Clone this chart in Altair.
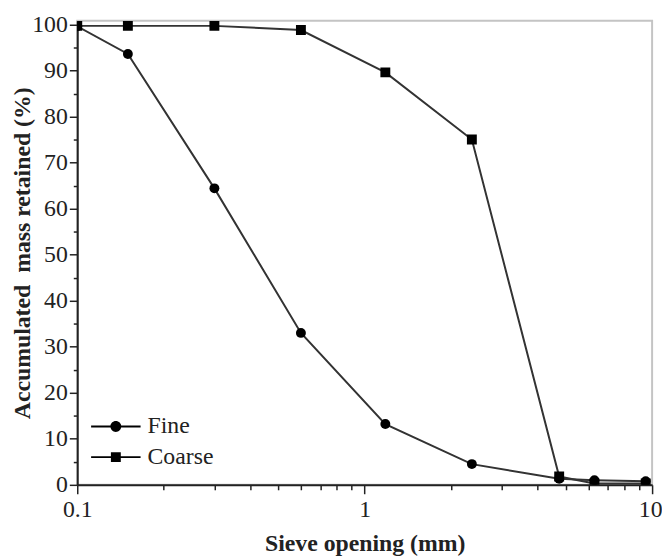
import altair as alt
import pandas as pd

# ---- data ----
sieve_mm = [0.1, 0.15, 0.3, 0.6, 1.18, 2.36, 4.75, 6.3, 9.5]
fine = [99.6, 93.6, 64.4, 33.0, 13.2, 4.5, 1.3, 1.0, 0.8]
coarse = [99.7, 99.7, 99.7, 98.8, 89.6, 75.0, 1.8, 0.3, 0.3]
series_names = ["Fine", "Coarse"]
x_tick_values = [0.1, 0.2, 0.3, 0.4, 0.5, 0.6, 0.7, 0.8, 0.9,
                 1, 2, 3, 4, 5, 6, 7, 8, 9, 10]
y_tick_values = list(range(0, 101, 5))

rows = []
for i, s in enumerate(sieve_mm):
    rows.append({"sieve": s, "value": fine[i], "series": "Fine", "order": i})
    rows.append({"sieve": s, "value": coarse[i], "series": "Coarse", "order": i})
df = pd.DataFrame(rows)

FONT = "Liberation Serif"
INK = "#222222"

major_x = "abs(log(datum.value)/LN10 - round(log(datum.value)/LN10)) < 0.001"
last_x = "datum.value >= 9.99"
major_y = "datum.value % 10 == 0"

x_enc = alt.X(
    "sieve:Q",
    scale=alt.Scale(type="log", domain=[0.1, 10], nice=False),
    axis=alt.Axis(
        title="Sieve opening (mm)",
        values=x_tick_values,
        format="~g",
        labelExpr=f"{major_x} ? datum.label : ''",
        tickSize={"condition": {"test": major_x, "value": 9}, "value": 5},
        labelAlign={"condition": {"test": last_x, "value": "right"}, "value": "center"},
        labelOffset={"condition": {"test": last_x, "value": 10}, "value": 0},
        labelFlush=False,
        labelOverlap=False,
        labelPadding=4,
        titlePadding=10,
    ),
)
y_enc = alt.Y(
    "value:Q",
    scale=alt.Scale(domain=[0, 100.8], nice=False),
    axis=alt.Axis(
        title="Accumulated\u00a0 mass retained (%)",
        values=y_tick_values,
        labelExpr=f"{major_y} ? datum.label : ''",
        tickSize={"condition": {"test": major_y, "value": 8}, "value": 4},
        labelPadding=2,
        titlePadding=-3,
        labelOverlap=False,
    ),
)

base = alt.Chart(df)

lines = base.mark_line(color="#333333", strokeWidth=2, clip=True).encode(
    x=x_enc, y=y_enc, detail="series:N", order="order:Q"
)

points = base.mark_point(filled=True, color="black", size=100, opacity=1, clip=True).encode(
    x=x_enc,
    y=y_enc,
    shape=alt.Shape(
        "series:N",
        scale=alt.Scale(domain=series_names, range=["circle", "square"]),
        legend=None,
    ),
)

# legend symbols: a short line with the marker on it (all filled shapes)
fine_path = ("M-2.5,-0.1H2.5V0.1H-2.5Z"
             "M-0.55,0A0.55,0.55,0,1,1,0.55,0A0.55,0.55,0,1,1,-0.55,0Z")
coarse_path = "M-2.5,-0.1H2.5V0.1H-2.5ZM-0.5,-0.5H0.5V0.5H-0.5Z"

legend_layer = base.transform_filter("false").mark_point(
    filled=True, color="black", opacity=1
).encode(
    x=x_enc,
    y=y_enc,
    shape=alt.Shape(
        "series:N",
        scale=alt.Scale(domain=series_names, range=[fine_path, coarse_path]),
        legend=alt.Legend(
            title=None,
            orient="none",
            legendX=27,
            legendY=398,
            padding=0,
            symbolSize=400,
            symbolFillColor="#1a1a1a",
            symbolStrokeWidth=0,
            labelOffset=20,
            rowPadding=7,
            labelFont=FONT,
            labelFontSize=24,
            labelColor=INK,
        ),
    ),
)

chart = (
    alt.layer(lines, points, legend_layer)
    .resolve_scale(shape="independent")
    .properties(
        width=581,
        height=469,
        autosize=alt.AutoSizeParams(type="none"),
        padding={"left": 70, "top": 10, "right": 10, "bottom": 70},
        background="white",
    )
    .configure_view(stroke="#c4c4c4", strokeWidth=2)
    .configure_axis(
        grid=False,
        domainColor=INK,
        domainWidth=2,
        tickColor=INK,
        tickWidth=1.5,
        labelFont=FONT,
        labelFontSize=24,
        labelColor=INK,
        titleFont=FONT,
        titleFontSize=24,
        titleFontWeight="bold",
        titleColor=INK,
    )
)

chart.save("out.html", embed_options={"renderer": "svg", "actions": False})
